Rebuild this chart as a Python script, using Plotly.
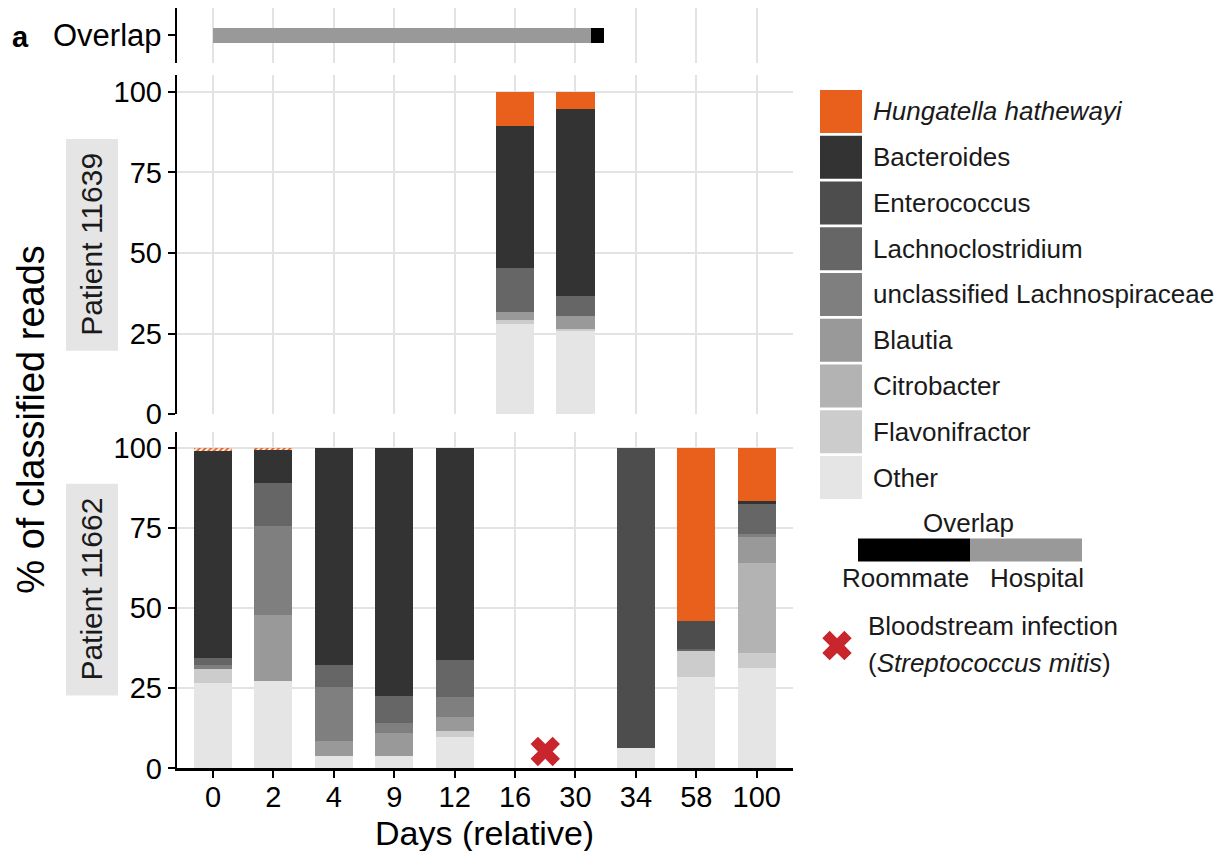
import plotly.graph_objects as go

W, H = 1222, 851
# vertical pixel frame used for placing panels and keys
HEFF = 835.6
FONT = "Liberation Sans, Arial, Helvetica, sans-serif"

# ---- data -----------------------------------------------------------------
DAYS = ["0", "2", "4", "9", "12", "16", "30", "34", "58", "100"]
Y_TICKS = [0, 25, 50, 75, 100]

TAXA = ["Other", "Flavonifractor", "Citrobacter", "Blautia",
        "unclassified Lachnospiraceae", "Lachnoclostridium",
        "Enterococcus", "Bacteroides", "Hungatella hathewayi"]
TAXA_COLORS = ["#e5e5e5", "#cccccc", "#b3b3b3", "#999999",
               "#7f7f7f", "#666666", "#4d4d4d", "#333333", "#e8601c"]

# Patient 11639 - % of classified reads per day (None = no sample)
other_11639 = [None, None, None, None, None, 28.0, 25.9, None, None, None]
flavonifractor_11639 = [None, None, None, None, None, 1.3, 0.5, None, None, None]
citrobacter_11639 = [None, None, None, None, None, 0.0, 0.0, None, None, None]
blautia_11639 = [None, None, None, None, None, 2.3, 4.2, None, None, None]
unclass_lachno_11639 = [None, None, None, None, None, 0.0, 0.0, None, None, None]
lachnoclostridium_11639 = [None, None, None, None, None, 13.7, 6.2, None, None, None]
enterococcus_11639 = [None, None, None, None, None, 0.0, 0.0, None, None, None]
bacteroides_11639 = [None, None, None, None, None, 44.1, 58.0, None, None, None]
hungatella_11639 = [None, None, None, None, None, 10.6, 5.2, None, None, None]

# Patient 11662 - % of classified reads per day (None = no sample)
other_11662 = [26.8, 27.4, 3.9, 3.9, 9.7, None, None, 6.3, 28.4, 31.3]
flavonifractor_11662 = [4.2, 0.0, 0.0, 0.0, 2.0, None, None, 0.0, 8.6, 4.7]
citrobacter_11662 = [0.0, 0.0, 0.0, 0.0, 0.0, None, None, 0.0, 0.0, 28.1]
blautia_11662 = [0.0, 20.6, 4.8, 7.3, 4.5, None, None, 0.0, 0.0, 8.1]
unclass_lachno_11662 = [1.3, 27.6, 16.7, 3.1, 6.0, None, None, 0.0, 0.0, 0.8]
lachnoclostridium_11662 = [2.3, 13.5, 6.9, 8.4, 11.7, None, None, 0.0, 0.4, 9.9]
enterococcus_11662 = [0.0, 0.0, 0.0, 0.0, 0.0, None, None, 93.7, 8.5, 0.0]
bacteroides_11662 = [64.3, 10.2, 67.7, 77.3, 66.1, None, None, 0.0, 0.0, 0.5]
hungatella_11662 = [1.1, 0.7, 0.0, 0.0, 0.0, None, None, 0.0, 54.1, 16.6]
# low-abundance Hungatella calls drawn hatched
hungatella_hatched_11662 = [True, True, False, False, False, False, False, False, False, False]

# Overlap track, in day-index units along the shared x axis
overlap_kind = ["Hospital", "Roommate"]
overlap_start = [0.0, 6.25]
overlap_end = [6.25, 6.48]
OVERLAP_COLORS = {"Hospital": "#999999", "Roommate": "#000000"}

# Bloodstream infection (Streptococcus mitis), between day 16 and day 30
infection_x = 5.5
infection_y = 5.3
INFECTION_COLOR = "#c9252c"

# ---- layout helpers ---------------------------------------------------------
def px(x):
    return x / W


def py(y):
    return 1 - y / HEFF


X_DOMAIN = [px(176.7), px(793)]
X_RANGE = [-0.6, 9.6]
x_index = list(range(len(DAYS)))
BAR_W = 0.63
GRID = "#e3e3e3"

fig = go.Figure()

patient_11639 = [other_11639, flavonifractor_11639, citrobacter_11639, blautia_11639,
                 unclass_lachno_11639, lachnoclostridium_11639, enterococcus_11639,
                 bacteroides_11639, hungatella_11639]
patient_11662 = [other_11662, flavonifractor_11662, citrobacter_11662, blautia_11662,
                 unclass_lachno_11662, lachnoclostridium_11662, enterococcus_11662,
                 bacteroides_11662, hungatella_11662]

# Overlap track
for kind, s, e in zip(overlap_kind, overlap_start, overlap_end):
    fig.add_trace(go.Bar(
        x=[e - s], base=[s], y=["Overlap"], orientation="h", width=0.284,
        marker=dict(color=OVERLAP_COLORS[kind], line=dict(width=0)),
        xaxis="x", yaxis="y", hoverinfo="skip"))

# Stacked composition bars
for name, col, vals in zip(TAXA, TAXA_COLORS, patient_11639):
    fig.add_trace(go.Bar(
        x=x_index, y=vals, width=BAR_W, name=name,
        marker=dict(color=col, line=dict(width=0)),
        xaxis="x2", yaxis="y2"))

for name, col, vals in zip(TAXA, TAXA_COLORS, patient_11662):
    marker = dict(color=col, line=dict(width=0))
    if name == "Hungatella hathewayi":
        marker["pattern"] = dict(
            shape=["/" if h else "" for h in hungatella_hatched_11662],
            fgcolor=col, size=4, solidity=0.5, fillmode="replace")
    fig.add_trace(go.Bar(
        x=x_index, y=vals, width=BAR_W, name=name, marker=marker,
        xaxis="x3", yaxis="y3"))

# Infection marker
fig.add_trace(go.Scatter(
    x=[infection_x], y=[infection_y], mode="markers",
    marker=dict(symbol="x", size=26, color=INFECTION_COLOR, line=dict(width=0)),
    xaxis="x3", yaxis="y3", cliponaxis=False))

# Legend cross, placed in an overlay pixel frame
fig.add_trace(go.Scatter(
    x=[837], y=[646], mode="markers",
    marker=dict(symbol="x", size=26, color=INFECTION_COLOR, line=dict(width=0)),
    xaxis="x4", yaxis="y4", cliponaxis=False))

tick_font = dict(family=FONT, size=29, color="black")

common_x = dict(domain=X_DOMAIN, range=X_RANGE, tickmode="array", tickvals=x_index,
                showgrid=True, gridcolor=GRID, gridwidth=2, zeroline=False)
common_y = dict(tickmode="array", tickvals=Y_TICKS, ticktext=[str(v) for v in Y_TICKS],
                showgrid=True, gridcolor=GRID, gridwidth=2, zeroline=False,
                showline=True, linecolor="black", linewidth=2,
                ticks="outside", ticklen=7, tickwidth=2, tickcolor="black",
                tickfont=tick_font)

fig.update_layout(
    width=W, height=H, margin=dict(l=0, r=0, t=0, b=0),
    paper_bgcolor="white", plot_bgcolor="rgba(0,0,0,0)",
    barmode="stack", showlegend=False,
    font=dict(family=FONT, color="black"),
    xaxis=dict(**common_x, anchor="y", showticklabels=False, ticks=""),
    yaxis=dict(domain=[py(63), py(8)], type="category", range=[-0.5, 0.5],
               showgrid=False, zeroline=False, showline=True, linecolor="black",
               linewidth=2, ticks="outside", ticklen=7, tickwidth=2,
               tickcolor="black", tickfont=dict(family=FONT, size=31, color="black"),
               anchor="x"),
    xaxis2=dict(**common_x, anchor="y2", showticklabels=False, ticks="", matches="x"),
    yaxis2=dict(**common_y, domain=[py(414.5), py(75)], range=[0, 105.27], anchor="x2"),
    xaxis3=dict(**common_x, anchor="y3", ticktext=DAYS, showticklabels=True,
                showline=True, linecolor="black", linewidth=2.5,
                ticks="outside", ticklen=7, tickwidth=2, tickcolor="black",
                ticklabelstandoff=-6, tickfont=tick_font, matches="x"),
    yaxis3=dict(**common_y, domain=[py(769), py(432)], range=[0, 105.08], anchor="x3"),
    xaxis4=dict(domain=[0, 1], range=[0, W], visible=False, anchor="y4"),
    yaxis4=dict(domain=[0, 1], range=[HEFF, 0], visible=False, anchor="x4"),
)

shapes = []
annotations = []


def label(text, x, y, size, xanchor="center", angle=0, color="black"):
    return dict(text=text, x=px(x), y=py(y), xref="paper", yref="paper",
                xanchor=xanchor, yanchor="middle", textangle=angle, showarrow=False,
                font=dict(family=FONT, size=size, color=color))


# Facet strips on the left
for text, cy in [("Patient 11639", 245), ("Patient 11662", 590)]:
    shapes.append(dict(type="rect", xref="paper", yref="paper",
                       x0=px(66), x1=px(118), y0=py(cy + 106), y1=py(cy - 106),
                       fillcolor="#e5e5e5", line=dict(width=0), layer="below"))
    annotations.append(label(text, 92, cy, 30, angle=-90, color="#1a1a1a"))

# Axis titles and panel tag
annotations += [
    label("% of classified reads", 31, 420, 38, angle=-90),
    label("Days (relative)", 484, 834, 34),
    label("<b>a</b>", 20, 37, 29),
]

# Taxa legend (top entry first)
LEG = 26
for i, (name, col) in enumerate(zip(TAXA[::-1], TAXA_COLORS[::-1])):
    top = 90 + i * 45.8
    shapes.append(dict(type="rect", xref="paper", yref="paper",
                       x0=px(820), x1=px(862), y0=py(top + 43), y1=py(top),
                       fillcolor=col, line=dict(width=0)))
    txt = f"<i>{name}</i>" if name == "Hungatella hathewayi" else name
    annotations.append(label(txt, 871, top + 21.5, LEG, xanchor="left", color="#1a1a1a"))

# Overlap colour key
shapes += [
    dict(type="rect", xref="paper", yref="paper", x0=px(858), x1=px(970),
         y0=py(562), y1=py(539), fillcolor=OVERLAP_COLORS["Roommate"], line=dict(width=0)),
    dict(type="rect", xref="paper", yref="paper", x0=px(970), x1=px(1082),
         y0=py(562), y1=py(539), fillcolor=OVERLAP_COLORS["Hospital"], line=dict(width=0)),
]
annotations += [
    label("Overlap", 968, 523, LEG, color="#1a1a1a"),
    label("Roommate", 905, 578, LEG, color="#1a1a1a"),
    label("Hospital", 1037, 578, LEG, color="#1a1a1a"),
    label("Bloodstream infection", 866, 626, LEG, xanchor="left", color="#1a1a1a"),
    label("(<i>Streptococcus mitis</i>)", 866, 663, LEG, xanchor="left", color="#1a1a1a"),
]

fig.update_layout(shapes=shapes, annotations=annotations)

fig.write_html("out.html")
